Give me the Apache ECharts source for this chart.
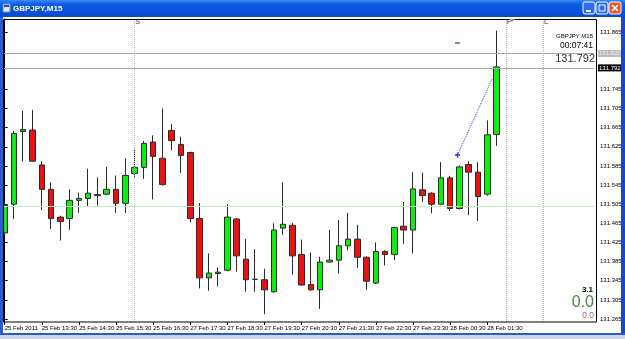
<!DOCTYPE html>
<html><head><meta charset="utf-8">
<script src="https://cdn.jsdelivr.net/npm/echarts@6/dist/echarts.min.js"></script>
<style>html,body{margin:0;padding:0;background:#fff;overflow:hidden}#c{width:625px;height:339px}</style>
</head><body><div id="c"></div>
<script>
// ---- data ----
const categories = [
 "25 Feb 12:30","25 Feb 12:45","25 Feb 13:00","25 Feb 13:15","25 Feb 13:30","25 Feb 13:45","25 Feb 14:00","25 Feb 14:15",
 "25 Feb 14:30","25 Feb 14:45","25 Feb 15:00","25 Feb 15:15","25 Feb 15:30","25 Feb 15:45","25 Feb 16:00","25 Feb 16:15",
 "25 Feb 16:30","25 Feb 16:45","27 Feb 17:00","27 Feb 17:15","27 Feb 17:30","27 Feb 17:45","27 Feb 18:00","27 Feb 18:15",
 "27 Feb 18:30","27 Feb 18:45","27 Feb 19:00","27 Feb 19:15","27 Feb 19:30","27 Feb 19:45","27 Feb 20:00","27 Feb 20:15",
 "27 Feb 20:30","27 Feb 20:45","27 Feb 21:00","27 Feb 21:15","27 Feb 21:30","27 Feb 21:45","27 Feb 22:00","27 Feb 22:15",
 "27 Feb 22:30","27 Feb 22:45","27 Feb 23:00","27 Feb 23:15","27 Feb 23:30","27 Feb 23:45","28 Feb 00:00","28 Feb 00:15",
 "28 Feb 00:30","28 Feb 00:45","28 Feb 01:00","28 Feb 01:15","28 Feb 01:30","28 Feb 01:45","28 Feb 02:00","28 Feb 02:15",
 "28 Feb 02:30","28 Feb 02:45","28 Feb 03:00","28 Feb 03:15","28 Feb 03:30","28 Feb 03:45","28 Feb 04:00","28 Feb 04:15"
];
const timeLabels = ["25 Feb 2011","25 Feb 13:30","25 Feb 14:30","25 Feb 15:30","25 Feb 16:30","27 Feb 17:30","27 Feb 18:30",
 "27 Feb 19:30","27 Feb 20:30","27 Feb 21:30","27 Feb 22:30","27 Feb 23:30","28 Feb 00:30","28 Feb 01:30"];
const openP  = [131.445,131.505,131.657,131.660,131.587,131.536,131.478,131.475,131.513,131.517,131.525,131.526,131.536,131.507,
 131.569,131.582,131.635,131.601,131.659,131.630,131.613,131.475,131.351,131.360,131.367,131.474,131.390,131.348,131.347,131.322,
 131.455,131.461,131.400,131.337,131.326,131.384,131.388,131.418,131.432,131.394,131.340,131.406,131.400,131.459,131.451,131.535,
 131.528,131.505,131.560,131.496,131.588,131.572,131.526,131.651];
const highP  = [131.508,131.658,131.700,131.702,131.595,131.551,131.481,131.536,131.529,131.579,131.561,131.583,131.565,131.601,
 131.620,131.637,131.649,131.705,131.673,131.646,131.615,131.507,131.402,131.373,131.505,131.476,131.432,131.411,131.370,131.465,
 131.551,131.466,131.431,131.404,131.395,131.451,131.472,131.487,131.462,131.396,131.425,131.409,131.458,131.510,131.572,131.571,
 131.530,131.593,131.564,131.586,131.595,131.593,131.680,131.868];
const lowP   = [131.439,131.474,131.594,131.594,131.493,131.453,131.429,131.451,131.487,131.500,131.502,131.524,131.487,131.487,
 131.561,131.558,131.515,131.544,131.618,131.570,131.467,131.329,131.324,131.333,131.365,131.364,131.322,131.322,131.275,131.320,
 131.441,131.358,131.335,131.324,131.286,131.383,131.360,131.409,131.372,131.326,131.338,131.377,131.388,131.422,131.402,131.510,
 131.486,131.503,131.491,131.494,131.482,131.470,131.523,131.627];
const closeP = [131.503,131.653,131.661,131.595,131.536,131.475,131.469,131.513,131.517,131.528,131.523,131.536,131.507,131.565,
 131.582,131.632,131.605,131.546,131.638,131.607,131.475,131.351,131.361,131.363,131.478,131.397,131.347,131.348,131.326,131.451,
 131.463,131.397,131.336,131.326,131.384,131.388,131.418,131.432,131.394,131.344,131.406,131.400,131.456,131.451,131.537,131.523,
 131.505,131.560,131.496,131.583,131.572,131.521,131.650,131.792];
const priceTicks = [131.265,131.305,131.345,131.385,131.425,131.465,131.505,131.545,131.585,131.625,131.665,131.705,131.745,131.865];
const bidPrice = 131.792;
const askPrice = 131.822;
const levelPrice = 131.503;
const separators = [["S",14],["F",54],["L",58]];
const trendLine = [[48.8,131.608],[52.55,131.768]];
const dashMark = [[48.8,131.842]];
const priceMin = 131.2587, priceMax = 131.8922;

// ---- chart ----
const F = '"Liberation Sans Narrow","Liberation Sans",Arial,sans-serif';
const chart = echarts.init(document.getElementById('c'), null, {renderer:'canvas'});
const tickShow = (i) => i % 4 === 0 && i <= 52;

const option = {
  animation:false,
  backgroundColor:'#ffffff',
  grid:{left:0, top:19, width:594, height:303, containLabel:false},
  xAxis:[{
    type:'category', data:categories, boundaryGap:true,
    axisLine:{show:false},
    axisTick:{show:true, alignWithLabel:true, interval:tickShow, length:3, lineStyle:{color:'#000'}},
    axisLabel:{interval:tickShow, align:'left', margin:3, fontSize:6, fontFamily:F, color:'#000',
      formatter:(v,i)=>timeLabels[i/4]},
    splitLine:{show:false}
  },{
    type:'value', min:-0.5, max:63.5, show:false
  }],
  yAxis:{
    type:'value', position:'right', offset:3, min:priceMin, max:priceMax, scale:true,
    axisLine:{show:true, lineStyle:{color:'#000'}},
    axisTick:{show:true, length:3, customValues:priceTicks, lineStyle:{color:'#000'}},
    axisLabel:{customValues:priceTicks, fontSize:6, fontFamily:F, color:'#000', margin:3, formatter:v=>v.toFixed(3)},
    splitLine:{show:false}
  },
  series:[
    {
      type:'candlestick', barWidth:6,
      data: openP.map((o,i)=>[o, closeP[i], lowP[i], highP[i]]),
      itemStyle:{color:'#10ee10', color0:'#ee1010', borderColor:'#2a2a2a', borderColor0:'#2a2a2a', borderWidth:1},
      markLine:{
        symbol:'none', silent:true, animation:false,
        data:[
          {yAxis:levelPrice, lineStyle:{color:'#c6ecc6', type:'solid', width:1}, label:{show:false}},
          {yAxis:askPrice, lineStyle:{color:'#a8a8a8', type:'solid', width:1},
            label:{show:true, position:'end', distance:4, formatter:askPrice.toFixed(3), backgroundColor:'#bcbcbc', color:'#eeeeee',
              padding:[1,1,0,1], fontSize:6, fontFamily:F}},
          {yAxis:bidPrice, lineStyle:{color:'#a8a8a8', type:'solid', width:1},
            label:{show:true, position:'end', distance:4, formatter:bidPrice.toFixed(3), backgroundColor:'#000', color:'#fff',
              padding:[1,1,0,1], fontSize:6, fontFamily:F}},
          ...separators.map(s=>({xAxis:categories[s[1]], lineStyle:{color:'#b4b4b4', type:'dotted', width:1}, label:{show:false}}))
        ]
      }
    },
    {
      type:'scatter', symbolSize:0, silent:true,
      data: separators.map(s=>[categories[s[1]], 131.886, s[0]]),
      label:{show:true, position:'right', distance:1, formatter:p=>p.value[2], color:'#8a2a9a', fontSize:7, fontWeight:'bold', fontFamily:F}
    },
    {
      type:'line', xAxisIndex:1, data:trendLine, symbol:'none', silent:true,
      lineStyle:{color:'#2a2ad0', type:'dotted', width:1}
    },
    {
      type:'scatter', xAxisIndex:1, data:[trendLine[0]], silent:true,
      symbol:'path://M2,0H4V2H6V4H4V6H2V4H0V2H2Z', symbolSize:5, itemStyle:{color:'#1a1aa8'}
    },
    {
      type:'scatter', xAxisIndex:1, data:dashMark, silent:true,
      symbol:'rect', symbolSize:[5,1.5], itemStyle:{color:'#2a2a90'}
    }
  ],
  graphic:[
    // plot frame
    {type:'rect', z:50, silent:true, shape:{x:3.5, y:19.5, width:593, height:302.5}, style:{fill:'none', stroke:'#000', lineWidth:1}},
    // chart-shift marker
    {type:'polygon', z:50, silent:true, shape:{points:[[509,19],[515,19],[512,22]]}, style:{fill:'#909090'}},
    // window borders
    {type:'rect', z:60, silent:true, shape:{x:0, y:0, width:3, height:339}, style:{fill:'#2a5ad8'}},
    {type:'rect', z:60, silent:true, shape:{x:621, y:0, width:4, height:339}, style:{fill:'#1c44cc'}},
    {type:'rect', z:60, silent:true, shape:{x:0, y:333, width:625, height:2}, style:{fill:'#2a5ad8'}},
    {type:'rect', z:60, silent:true, shape:{x:0, y:335, width:625, height:4}, style:{fill:'#cfd6e6'}},
    // title bar
    {type:'rect', z:60, silent:true, shape:{x:0, y:0, width:625, height:17},
      style:{fill:new echarts.graphic.LinearGradient(0,0,0,1,[{offset:0,color:'#3d86f5'},{offset:0.25,color:'#0e5de6'},{offset:1,color:'#0649cf'}])}},
    {type:'rect', z:61, silent:true, shape:{x:3, y:4, width:7, height:8}, style:{fill:'#dfe8f8', stroke:'#7090c0'}},
    {type:'rect', z:62, silent:true, shape:{x:4, y:5, width:5, height:2}, style:{fill:'#2050c0'}},
    {type:'text', z:61, silent:true, style:{x:13, y:8.5, text:'GBPJPY,M15', fill:'#ffffff', fontSize:8, fontWeight:'bold', fontFamily:'"Liberation Sans",Arial,sans-serif', verticalAlign:'middle'}},
    {type:'rect', z:61, silent:true, shape:{x:583, y:2, width:12, height:12, r:2}, style:{fill:'#2c6cf0', stroke:'#ffffff', lineWidth:1}},
    {type:'rect', z:62, silent:true, shape:{x:586, y:10, width:5, height:2}, style:{fill:'#ffffff'}},
    {type:'rect', z:61, silent:true, shape:{x:596, y:2, width:12, height:12, r:2}, style:{fill:'#2c6cf0', stroke:'#ffffff', lineWidth:1}},
    {type:'rect', z:62, silent:true, shape:{x:599, y:5, width:6, height:6}, style:{fill:'none', stroke:'#ffffff', lineWidth:1}},
    {type:'rect', z:61, silent:true, shape:{x:609, y:2, width:12, height:12, r:2}, style:{fill:'#e2572e', stroke:'#ffffff', lineWidth:1}},
    {type:'line', z:62, silent:true, shape:{x1:612, y1:5, x2:618, y2:11}, style:{stroke:'#ffffff', lineWidth:1.6}},
    {type:'line', z:62, silent:true, shape:{x1:618, y1:5, x2:612, y2:11}, style:{stroke:'#ffffff', lineWidth:1.6}},
    // info texts
    {type:'text', z:55, silent:true, style:{x:593, y:36.5, text:'GBPJPY M15', fill:'#000', fontSize:6, fontFamily:F, align:'right', verticalAlign:'middle'}},
    {type:'text', z:55, silent:true, style:{x:593, y:46, text:'00:07:41', fill:'#000', fontSize:8.5, fontFamily:'"Liberation Sans",Arial,sans-serif', align:'right', verticalAlign:'middle'}},
    {type:'text', z:55, silent:true, style:{x:595, y:59, text:bidPrice.toFixed(3), fill:'#333', fontSize:11, fontFamily:'"Liberation Sans",Arial,sans-serif', align:'right', verticalAlign:'middle'}},
    {type:'text', z:55, silent:true, style:{x:593, y:290, text:'3.1', fill:'#000', fontSize:8, fontWeight:'bold', fontFamily:'"Liberation Sans",Arial,sans-serif', align:'right', verticalAlign:'middle'}},
    {type:'text', z:55, silent:true, style:{x:594, y:302.5, text:'0.0', fill:'#3c8a3c', fontSize:16, fontFamily:'"Liberation Sans",Arial,sans-serif', align:'right', verticalAlign:'middle'}},
    {type:'text', z:55, silent:true, style:{x:594, y:316, text:'0.0', fill:'#b06a6a', fontSize:8.5, fontFamily:'"Liberation Sans",Arial,sans-serif', align:'right', verticalAlign:'middle'}}
  ]
};
chart.setOption(option);
</script>
</body></html>
